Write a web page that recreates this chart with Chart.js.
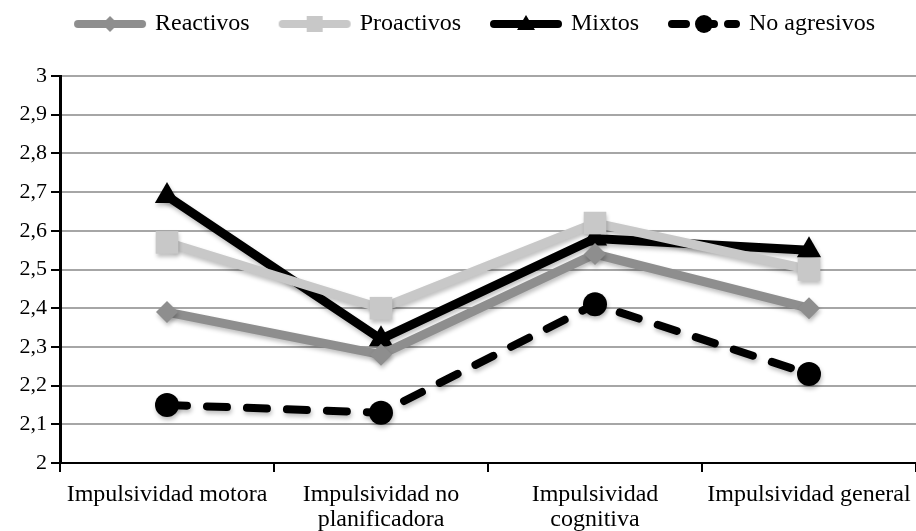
<!DOCTYPE html>
<html>
<head>
<meta charset="utf-8">
<script src="https://cdn.jsdelivr.net/npm/chart.js@4"></script>
<style>
  html, body { margin: 0; padding: 0; background: #fff; }
  #wrap { width: 916px; height: 531px; }
</style>
</head>
<body>
<div id="wrap"><canvas id="c" width="916" height="531"></canvas></div>
<script>
const categories = [
  'Impulsividad motora',
  ['Impulsividad no', 'planificadora'],
  ['Impulsividad', 'cognitiva'],
  'Impulsividad general'
];
const seriesNames = ['Reactivos', 'Proactivos', 'Mixtos', 'No agresivos'];
const reactivos   = [2.39, 2.28, 2.54, 2.40];
const proactivos  = [2.57, 2.40, 2.62, 2.50];
const mixtos      = [2.69, 2.32, 2.58, 2.55];
const noAgresivos = [2.15, 2.13, 2.41, 2.23];
const yTicks = [2, 2.1, 2.2, 2.3, 2.4, 2.5, 2.6, 2.7, 2.8, 2.9, 3];

const FONT = '"Liberation Serif", "Times New Roman", serif';

function legendImage(color, style, dashed) {
  const c = document.createElement('canvas');
  c.width = 76; c.height = 24;
  const x = c.getContext('2d');
  x.strokeStyle = color; x.fillStyle = color;
  x.lineWidth = 8; x.lineCap = 'round';
  if (dashed) x.setLineDash([14, 14]);
  x.beginPath(); x.moveTo(6, 12); x.lineTo(70, 12); x.stroke();
  x.setLineDash([]);
  x.beginPath();
  if (style === 'rectRot') { x.moveTo(38, 4); x.lineTo(46, 12); x.lineTo(38, 20); x.lineTo(30, 12); }
  else if (style === 'rect') { x.rect(30, 4, 16, 16); }
  else if (style === 'triangle') { x.moveTo(38, 3); x.lineTo(47, 18); x.lineTo(29, 18); }
  else { x.arc(38, 12, 9, 0, Math.PI * 2); }
  x.closePath(); x.fill();
  return c;
}

const colors = ['#8e8e8e', '#c8c8c8', '#000000', '#000000'];
const styles = ['rectRot', 'rect', 'triangle', 'circle'];
const radii = [11, 16, 14, 12];
const values = [reactivos, proactivos, mixtos, noAgresivos];

const datasets = seriesNames.map((name, i) => ({
  label: name,
  data: values[i],
  borderColor: colors[i],
  backgroundColor: colors[i],
  borderWidth: i === 3 ? 8 : 9,
  borderDash: i === 3 ? [20, 20] : [],
  borderCapStyle: 'round',
  pointStyle: styles[i],
  pointRadius: radii[i],
  pointBorderWidth: 0,
  pointBackgroundColor: colors[i],
  pointHoverRadius: radii[i],
  tension: 0,
  legendImg: legendImage(colors[i], styles[i], i === 3)
}));

const shadowPlugin = {
  id: 'shadow',
  beforeDatasetDraw(chart) {
    const ctx = chart.ctx;
    ctx.save();
    ctx.shadowColor = 'rgba(0,0,0,0.25)';
    ctx.shadowBlur = 4;
    ctx.shadowOffsetX = 1;
    ctx.shadowOffsetY = 3;
  },
  afterDatasetDraw(chart) { chart.ctx.restore(); }
};

const legendHeightPlugin = {
  id: 'legendHeight',
  beforeInit(chart) {
    const lg = chart.legend;
    const orig = lg.fit;
    lg.fit = function () { orig.call(this); this.height = 96; };
  },
  afterLayout(chart) {
    chart.legend.left += 18;
    chart.legend.right += 18;
  }
};

new Chart(document.getElementById('c'), {
  type: 'line',
  data: { labels: categories, datasets },
  options: {
    responsive: false,
    animation: false,
    devicePixelRatio: 1,
    layout: { autoPadding: false, padding: { left: 0, right: 0, top: -20, bottom: 0 } },
    plugins: {
      tooltip: { enabled: false },
      legend: {
        position: 'top',
        labels: {
          usePointStyle: true,
          pointStyleWidth: 66,
          padding: 32,
          color: '#000',
          font: { family: FONT, size: 24 },
          generateLabels(chart) {
            return chart.data.datasets.map((d, i) => ({
              text: d.label,
              pointStyle: d.legendImg,
              fillStyle: d.borderColor,
              strokeStyle: d.borderColor,
              lineWidth: 0,
              hidden: false,
              datasetIndex: i,
              fontColor: '#000'
            }));
          }
        }
      }
    },
    scales: {
      x: {
        offset: true,
        afterFit(axis) { axis.height = 68; axis.paddingRight = 0; axis.paddingLeft = 0; },
        grid: { offset: true, drawOnChartArea: false, drawTicks: true, tickLength: 9, tickColor: '#000', lineWidth: 2 },
        border: { color: '#000', width: 2 },
        ticks: { color: '#000', font: { family: FONT, size: 24, lineHeight: 1.05 }, maxRotation: 0, autoSkip: false, padding: 10 }
      },
      y: {
        min: 2, max: 3,
        afterFit(axis) { axis.width = 60; axis.paddingTop = 0; },
        afterBuildTicks(axis) { axis.ticks = yTicks.map(v => ({ value: v })); },
        grid: { color: '#a6a6a6', lineWidth: 2, tickColor: '#000', tickLength: 9, drawTicks: true },
        border: { color: '#000', width: 3 },
        ticks: {
          color: '#000', font: { family: FONT, size: 22 }, padding: 4,
          callback: v => (Math.round(v * 10) / 10).toString().replace('.', ',')
        }
      }
    }
  },
  plugins: [shadowPlugin, legendHeightPlugin]
});
</script>
</body>
</html>
